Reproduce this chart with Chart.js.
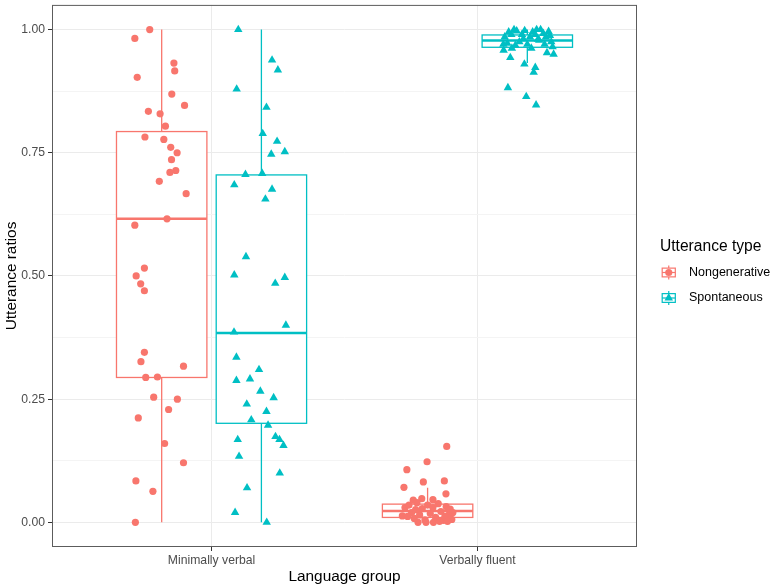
<!DOCTYPE html>
<html>
<head>
<meta charset="utf-8">
<script src="https://cdn.jsdelivr.net/npm/chart.js"></script>
<style>
  html, body { margin: 0; padding: 0; background: #fff; }
</style>
</head>
<body>
<canvas id="ratioChart" width="777" height="586"></canvas>
<script>
const groups = ['Minimally verbal', 'Verbally fluent'];
const types = ['Nongenerative', 'Spontaneous'];
const colors = ['#F8766D', '#00BFC4'];
const yTicks = [0, 0.25, 0.5, 0.75, 1];
const yTickLabels = ['0.00', '0.25', '0.50', '0.75', '1.00'];
const yMinorTicks = [0.125, 0.375, 0.625, 0.875];

// box stats per group: [lower whisker, q1, median, q3, upper whisker]
const nongenStats = [[0, 0.294, 0.616, 0.793, 1.0], [0, 0.010, 0.023, 0.037, 0.070]];
const spontStats = [[0, 0.201, 0.384, 0.705, 1.0], [0.932, 0.964, 0.978, 0.989, 1.0]];

// jittered points (horizontal jitter in x units, ratio)
const mvNongenJitter = [-0.045, -0.101, 0.046, 0.049, -0.092, 0.038, 0.086, -0.050, -0.006, 0.014,
  -0.063, 0.008, 0.034, 0.058, 0.037, 0.053, 0.031, -0.009, 0.092, 0.020,
  -0.101, -0.065, -0.096, -0.079, -0.065, -0.065, -0.078, 0.082, -0.060, -0.016,
  -0.030, 0.059, 0.026, -0.088, 0.011, 0.082, -0.097, -0.033, -0.099];
const mvNongenRatio = [1.000, 0.982, 0.932, 0.916, 0.903, 0.869, 0.846, 0.834, 0.829, 0.804,
  0.782, 0.777, 0.761, 0.750, 0.736, 0.714, 0.710, 0.692, 0.667, 0.616,
  0.603, 0.516, 0.500, 0.484, 0.470, 0.345, 0.326, 0.317, 0.294, 0.295,
  0.254, 0.250, 0.229, 0.212, 0.160, 0.121, 0.084, 0.063, 0.000];

const mvSpontJitter = [-0.087, 0.040, 0.062, -0.093, 0.019, 0.005, 0.059, 0.037, 0.088, -0.060,
  0.003, -0.102, 0.040, 0.015, -0.058, -0.102, 0.088, 0.052, 0.092, -0.103,
  -0.094, -0.009, -0.094, -0.043, -0.004, 0.046, -0.055, 0.019, -0.038, 0.025,
  -0.089, 0.053, 0.068, 0.083, -0.084, 0.069, -0.054, -0.099, 0.020];
const mvSpontRatio = [1.000, 0.938, 0.918, 0.879, 0.842, 0.789, 0.773, 0.747, 0.752, 0.706,
  0.708, 0.685, 0.676, 0.656, 0.539, 0.502, 0.497, 0.485, 0.400, 0.386,
  0.335, 0.310, 0.288, 0.291, 0.266, 0.253, 0.240, 0.225, 0.208, 0.197,
  0.168, 0.174, 0.168, 0.156, 0.134, 0.100, 0.070, 0.020, 0.000];

const vfNongenJitter = [0.072, -0.002, -0.078, -0.016, 0.063, -0.089, 0.069, -0.022, -0.054, 0.020,
  -0.095, -0.085, -0.036, -0.006, 0.022, 0.091, -0.070, -0.060, -0.050, -0.040,
  -0.030, -0.020, -0.010, 0.000, 0.010, 0.020, 0.030, 0.040, 0.050, 0.060,
  0.070, 0.080, 0.085, 0.095, -0.075, 0.045, 0.065, 0.075, -0.045];
const vfNongenRatio = [0.154, 0.123, 0.107, 0.082, 0.084, 0.071, 0.058, 0.048, 0.045, 0.046,
  0.013, 0.030, 0.000, 0.000, 0.000, 0.006, 0.035, 0.020, 0.008, 0.040,
  0.015, 0.028, 0.005, 0.035, 0.018, 0.030, 0.010, 0.038, 0.022, 0.004,
  0.032, 0.015, 0.027, 0.020, 0.012, 0.002, 0.012, 0.002, 0.026];

const vfSpontJitter = [-0.064, -0.011, 0.030, 0.024, -0.073, -0.004, 0.033, 0.074, 0.099, -0.089,
  -0.058, -0.085, -0.070, -0.060, -0.050, -0.040, -0.030, -0.020, -0.010, 0.000,
  0.010, 0.020, 0.030, 0.040, 0.050, 0.060, 0.070, 0.080, 0.090, 0.095,
  -0.075, -0.045, 0.015, 0.045, 0.065, -0.015, 0.085, -0.090, 0.035];
const vfSpontRatio = [0.943, 0.930, 0.923, 0.913, 0.882, 0.864, 0.847, 0.953, 0.950, 0.958,
  0.962, 0.985, 0.995, 0.990, 1.000, 0.997, 0.975, 0.990, 0.998, 0.970,
  0.985, 0.995, 0.990, 0.980, 1.000, 0.992, 0.985, 0.996, 0.975, 0.965,
  0.972, 0.968, 0.962, 0.978, 0.970, 0.981, 0.988, 0.970, 1.000];

const dodge = [-0.1875, 0.1875];
const boxWidth = 0.34;
const fontFamily = '"Liberation Sans", Arial, sans-serif';
const circleRadius = 3.6;
const triangleRadius = 4.9;

function toPoints(groupIdx, typeIdx, jitter, ratio) {
  return ratio.map((v, i) => ({ x: groupIdx + 1 + dodge[typeIdx] + jitter[i], y: v }));
}

const boxPlugin = {
  id: 'boxes',
  beforeDatasetsDraw(chart) {
    const { ctx, scales: { x, y } } = chart;
    [nongenStats, spontStats].forEach((stats, t) => {
      stats.forEach((s, g) => {
        const cx = g + 1 + dodge[t];
        const left = x.getPixelForValue(cx - boxWidth / 2);
        const right = x.getPixelForValue(cx + boxWidth / 2);
        const mid = x.getPixelForValue(cx);
        const [lo, q1, med, q3, hi] = s.map(v => y.getPixelForValue(v));
        ctx.save();
        ctx.strokeStyle = colors[t];
        ctx.lineWidth = 1.3;
        ctx.beginPath();
        ctx.moveTo(mid, q3); ctx.lineTo(mid, hi);
        ctx.moveTo(mid, q1); ctx.lineTo(mid, lo);
        ctx.stroke();
        ctx.fillStyle = '#fff';
        ctx.fillRect(left, q3, right - left, q1 - q3);
        ctx.strokeRect(left, q3, right - left, q1 - q3);
        ctx.lineWidth = 2.5;
        ctx.beginPath();
        ctx.moveTo(left, med); ctx.lineTo(right, med);
        ctx.stroke();
        ctx.restore();
      });
    });
  },
  afterDraw(chart) {
    const { ctx, chartArea: a } = chart;
    ctx.save();
    // panel border
    ctx.strokeStyle = '#5c5c5c';
    ctx.lineWidth = 1;
    ctx.strokeRect(a.left + 0.5, a.top + 0.5, a.right - a.left - 1, a.bottom - a.top - 1);

    // legend
    const lx = 660, key = 17.5;
    ctx.fillStyle = '#000';
    ctx.textAlign = 'left';
    ctx.textBaseline = 'middle';
    ctx.font = '15.6px ' + fontFamily;
    ctx.fillText('Utterance type', lx, 246.5);
    ctx.font = '12.5px ' + fontFamily;
    const rows = [272.5, 298];
    types.forEach((name, t) => {
      const cy = rows[t];
      const top = cy - key / 2;
      const cx = lx + key / 2;
      ctx.strokeStyle = colors[t];
      ctx.lineWidth = 1.2;
      ctx.beginPath();
      ctx.moveTo(cx, top + key * 0.1); ctx.lineTo(cx, top + key * 0.25);
      ctx.moveTo(cx, top + key * 0.75); ctx.lineTo(cx, top + key * 0.9);
      ctx.stroke();
      ctx.fillStyle = '#fff';
      ctx.fillRect(lx + key * 0.125, top + key * 0.25, key * 0.75, key * 0.5);
      ctx.strokeRect(lx + key * 0.125, top + key * 0.25, key * 0.75, key * 0.5);
      ctx.beginPath();
      ctx.moveTo(lx + key * 0.125, cy); ctx.lineTo(lx + key * 0.875, cy);
      ctx.stroke();
      ctx.fillStyle = colors[t];
      ctx.beginPath();
      if (t === 0) {
        ctx.arc(cx, cy, circleRadius, 0, Math.PI * 2);
      } else {
        const r = triangleRadius;
        ctx.moveTo(cx, cy - r);
        ctx.lineTo(cx + r * Math.sin(2 * Math.PI / 3), cy - r * Math.cos(2 * Math.PI / 3));
        ctx.lineTo(cx + r * Math.sin(4 * Math.PI / 3), cy - r * Math.cos(4 * Math.PI / 3));
        ctx.closePath();
      }
      ctx.fill();
      ctx.fillStyle = '#000';
      ctx.fillText(name, 689, cy);
    });
    ctx.restore();
  }
};

const tickFont = { family: fontFamily, size: 12.2 };
const titleFont = { family: fontFamily, size: 15.4 };

new Chart(document.getElementById('ratioChart').getContext('2d'), {
  type: 'scatter',
  data: {
    datasets: [
      {
        label: types[0],
        data: toPoints(0, 0, mvNongenJitter, mvNongenRatio).concat(toPoints(1, 0, vfNongenJitter, vfNongenRatio)),
        pointStyle: 'circle',
        pointRadius: circleRadius,
        backgroundColor: colors[0],
        borderWidth: 0
      },
      {
        label: types[1],
        data: toPoints(0, 1, mvSpontJitter, mvSpontRatio).concat(toPoints(1, 1, vfSpontJitter, vfSpontRatio)),
        pointStyle: 'triangle',
        pointRadius: triangleRadius,
        backgroundColor: colors[1],
        borderWidth: 0
      }
    ]
  },
  options: {
    responsive: false,
    animation: false,
    events: [],
    layout: { padding: { top: 2, right: 140, bottom: 0, left: 0 } },
    plugins: { legend: { display: false }, tooltip: { enabled: false } },
    scales: {
      x: {
        type: 'linear',
        min: 0.4,
        max: 2.6,
        afterBuildTicks(scale) { scale.ticks = [{ value: 1 }, { value: 2 }]; },
        afterFit(scale) { scale.height = 39; scale.paddingLeft = 0; scale.paddingRight = 0; },
        ticks: {
          callback: v => groups[v - 1],
          color: '#4D4D4D',
          font: tickFont,
          padding: 2,
          autoSkip: false,
          maxRotation: 0
        },
        grid: { color: '#EBEBEB', lineWidth: 1, tickLength: 4, tickColor: '#333' },
        border: { display: false },
        title: { display: true, text: 'Language group', color: '#000', font: titleFont, padding: { top: 0, bottom: 0 } }
      },
      y: {
        type: 'linear',
        min: -0.05,
        max: 1.05,
        afterBuildTicks(scale) {
          scale.ticks = yTicks.concat(yMinorTicks).sort((a, b) => a - b).map(v => ({ value: v }));
        },
        afterFit(scale) { scale.width = 52; scale.paddingTop = 0; scale.paddingBottom = 0; },
        ticks: {
          callback: v => { const i = yTicks.indexOf(v); return i >= 0 ? yTickLabels[i] : ''; },
          color: '#4D4D4D',
          font: tickFont,
          padding: 3,
          autoSkip: false
        },
        grid: {
          color: c => (c.tick && yTicks.includes(c.tick.value)) ? '#EBEBEB' : '#F4F4F4',
          lineWidth: 1,
          tickLength: 4,
          tickColor: c => (c.tick && yTicks.includes(c.tick.value)) ? '#333' : 'rgba(0,0,0,0)'
        },
        border: { display: false },
        title: { display: true, text: 'Utterance ratios', color: '#000', font: titleFont, padding: { top: 3, bottom: 0 } }
      }
    }
  },
  plugins: [boxPlugin]
});
</script>
</body>
</html>
